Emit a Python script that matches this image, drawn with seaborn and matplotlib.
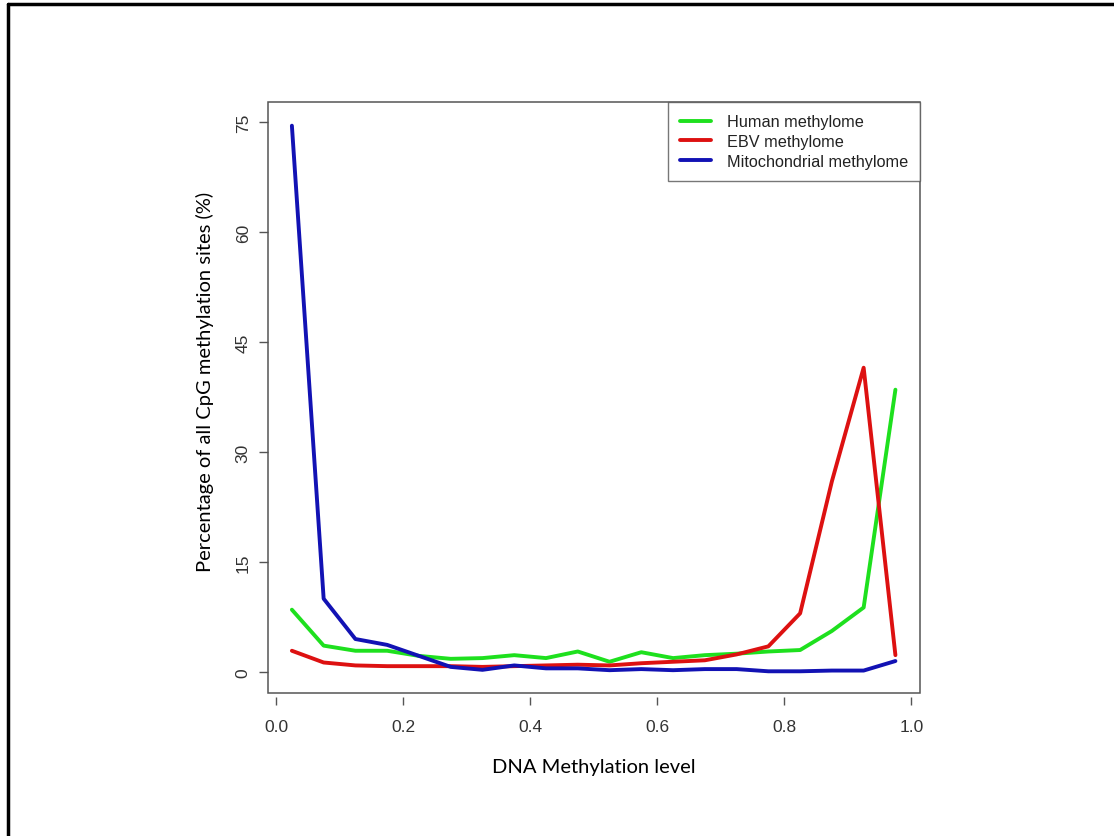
import numpy as np
import pandas as pd
import matplotlib
matplotlib.use("Agg")
import matplotlib.pyplot as plt
from matplotlib.lines import Line2D
from matplotlib.patches import Rectangle
import seaborn as sns

# ---- data ----
meth_level = [0.025, 0.075, 0.125, 0.175, 0.225, 0.275, 0.325, 0.375, 0.425, 0.475,
              0.525, 0.575, 0.625, 0.675, 0.725, 0.775, 0.825, 0.875, 0.925, 0.975]
human = [8.5, 3.6, 2.9, 2.9, 2.2, 1.8, 1.9, 2.3, 1.9, 2.8,
         1.4, 2.7, 1.9, 2.3, 2.5, 2.8, 3.0, 5.6, 8.8, 38.5]
ebv = [2.9, 1.3, 0.9, 0.8, 0.8, 0.8, 0.7, 0.8, 0.9, 1.0,
       0.9, 1.2, 1.4, 1.6, 2.4, 3.5, 8.0, 26.0, 41.5, 2.3]
mito = [74.5, 10.0, 4.5, 3.7, 2.2, 0.7, 0.3, 0.9, 0.5, 0.5,
        0.25, 0.4, 0.25, 0.4, 0.4, 0.1, 0.1, 0.2, 0.2, 1.5]
series_names = ["Human methylome", "EBV methylome", "Mitochondrial methylome"]
series_colors = ["#1ee01e", "#dd1111", "#1212b4"]
x_ticks = [0.0, 0.2, 0.4, 0.6, 0.8, 1.0]
y_ticks = [0, 15, 30, 45, 60, 75]

df = pd.concat([
    pd.DataFrame({"level": meth_level, "pct": vals, "series": name})
    for name, vals in zip(series_names, [human, ebv, mito])
], ignore_index=True)

sns.set_theme(style="white")
plt.rcParams["font.family"] = ["Liberation Sans", "DejaVu Sans"]

W, H = 1114, 837
fig = plt.figure(figsize=(W / 100, H / 100), dpi=100)
ax = fig.add_axes([268 / W, 1 - 694 / H, (920 - 268) / W, (694 - 103) / H])

palette = dict(zip(series_names, series_colors))
sns.lineplot(data=df, x="level", y="pct", hue="series", palette=palette,
             hue_order=series_names, linewidth=2.8, ax=ax, legend=False)

ax.set_xlim(-0.0126, 1.0137)
ax.set_ylim(-2.86, 77.73)
ax.set_xticks(x_ticks)
ax.set_xticklabels([f"{v:.1f}" for v in x_ticks])
ax.set_yticks(y_ticks)
ax.set_yticklabels([str(v) for v in y_ticks], rotation=90, va="center")

gray = "#555555"
for s in ["top", "right", "left"]:
    ax.spines[s].set_visible(False)
ax.spines["bottom"].set_position(("outward", 3))
ax.spines["bottom"].set_visible(False)
ax.add_patch(Rectangle((0, 0), 1, 1, transform=ax.transAxes, fill=False,
                       edgecolor=gray, linewidth=1.1, clip_on=False, zorder=5))

ax.tick_params(axis="x", direction="out", length=6, width=1.0, color=gray,
               labelsize=12.5, labelcolor="#333333", pad=10, bottom=True)
ax.tick_params(axis="y", direction="out", length=6.5, width=1.0, color=gray,
               labelsize=12.5, labelcolor="#333333", pad=6, left=True)

ax.set_xlabel("")
ax.set_ylabel("")
fig.text(594 / W, 1 - 768 / H, "DNA Methylation level", ha="center", va="center",
         fontsize=14.5, family=["Lato", "DejaVu Sans"], color="#000000")
fig.text(205 / W, 1 - 382 / H, "Percentage of all CpG methylation sites (%)",
         ha="center", va="center", rotation=90,
         fontsize=14.5, family=["Lato", "DejaVu Sans"], color="#000000")

handles = [Line2D([0], [0], color=c, lw=2.8) for c in series_colors]
leg = ax.legend(handles, series_names, loc="upper right", borderaxespad=0,
                frameon=True, fancybox=False, fontsize=11.7, handlelength=1.9,
                handletextpad=0.95, labelspacing=0.3, borderpad=0.75)
leg.get_frame().set_edgecolor(gray)
leg.get_frame().set_linewidth(1.0)
for t in leg.get_texts():
    t.set_color("#222222")

# outer frame (left and top edges visible)
fig.add_artist(Line2D([8 / W, 8 / W], [0, 1 - 5 / H], transform=fig.transFigure,
                      color="black", linewidth=2.5))
fig.add_artist(Line2D([8 / W, 1], [1 - 5 / H, 1 - 5 / H], transform=fig.transFigure,
                      color="black", linewidth=2.5))

fig.savefig("out.png", dpi=100)
